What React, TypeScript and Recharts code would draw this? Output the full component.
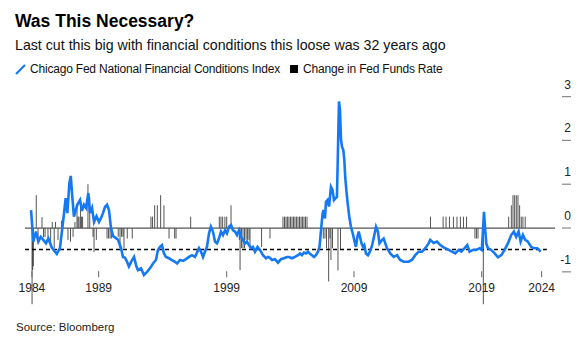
import React from "react";
import { Bar, ComposedChart, Line, ReferenceLine, XAxis, YAxis } from "recharts";

// Chicago Fed NFCI (x in chart years)
const nfciYears = [
  1983.63, 1983.81, 1984.02, 1984.2, 1984.39, 1984.59, 1984.8, 1984.99, 1985.25, 1985.51, 1985.65, 1985.9,
  1986.16, 1986.35, 1986.48, 1986.64, 1986.75, 1986.87, 1987.0, 1987.14, 1987.26, 1987.48, 1987.63, 1987.79,
  1987.95, 1988.13, 1988.26, 1988.42, 1988.58, 1988.77, 1988.97, 1989.13, 1989.28, 1989.44, 1989.6, 1989.75,
  1989.91, 1990.07, 1990.3, 1990.46, 1990.7, 1990.85, 1991.01, 1991.17, 1991.32, 1991.48, 1991.72, 1991.91,
  1992.03, 1992.27, 1992.5, 1992.74, 1992.97, 1993.21, 1993.44, 1993.6, 1993.76, 1993.92, 1994.07, 1994.23,
  1994.47, 1994.7, 1994.94, 1995.1, 1995.33, 1995.57, 1995.8, 1996.04, 1996.27, 1996.51, 1996.67, 1996.82,
  1996.98, 1997.14, 1997.29, 1997.45, 1997.61, 1997.76, 1997.92, 1998.08, 1998.24, 1998.39, 1998.55, 1998.71,
  1998.87, 1999.02, 1999.18, 1999.34, 1999.49, 1999.65, 1999.81, 1999.97, 2000.12, 2000.28, 2000.44, 2000.59,
  2000.75, 2000.91, 2001.06, 2001.22, 2001.42, 2001.61, 2001.85, 2002.09, 2002.24, 2002.4, 2002.56, 2002.79,
  2003.03, 2003.26, 2003.5, 2003.73, 2003.89, 2004.13, 2004.36, 2004.6, 2004.76, 2004.91, 2005.07, 2005.23,
  2005.39, 2005.54, 2005.7, 2005.86, 2006.01, 2006.17, 2006.29, 2006.41, 2006.52, 2006.6, 2006.72, 2006.8,
  2006.92, 2007.04, 2007.19, 2007.31, 2007.43, 2007.55, 2007.66, 2007.74, 2007.82, 2007.9, 2007.98, 2008.06,
  2008.16, 2008.24, 2008.31, 2008.42, 2008.5, 2008.63, 2008.76, 2008.9, 2009.02, 2009.15, 2009.27, 2009.37,
  2009.47, 2009.59, 2009.71, 2009.81, 2009.94, 2010.1, 2010.25, 2010.41, 2010.57, 2010.73, 2010.88, 2011.0,
  2011.12, 2011.33, 2011.59, 2011.85, 2012.12, 2012.38, 2012.63, 2012.9, 2013.29, 2013.55, 2013.81, 2014.08,
  2014.34, 2014.6, 2014.86, 2014.99, 2015.26, 2015.52, 2015.78, 2016.04, 2016.43, 2016.7, 2016.96, 2017.22,
  2017.43, 2017.69, 2017.9, 2018.08, 2018.34, 2018.6, 2018.87, 2019.04, 2019.15, 2019.21, 2019.29, 2019.39,
  2019.52, 2019.78, 2020.05, 2020.31, 2020.57, 2020.83, 2021.09, 2021.35, 2021.56, 2021.74, 2021.93, 2022.09,
  2022.27, 2022.45, 2022.66, 2022.92, 2023.14, 2023.4, 2023.66,
];
const nfciValues = [
  0.41, -0.31, -0.08, -0.31, -0.2, -0.27, -0.35, -0.24, -0.44, -0.54, -0.59, -0.46,
  0.18, 0.68, 0.34, 1.02, 1.19, 0.71, 0.26, 0.41, 0.53, 0.64, 0.39, 0.53,
  0.46, 0.8, 0.34, 0.46, 0.14, 0.27, 0.14, 0.23, 0.34, 0.48, 0.53, 0.41,
  0.0, -0.18, -0.23, -0.27, -0.46, -0.66, -0.68, -0.77, -0.88, -0.78, -0.66, -0.88,
  -0.96, -0.92, -1.07, -1.0, -0.92, -0.81, -0.73, -0.5, -0.43, -0.39, -0.58, -0.66,
  -0.69, -0.73, -0.77, -0.81, -0.73, -0.75, -0.71, -0.66, -0.62, -0.66, -0.56, -0.46,
  -0.54, -0.66, -0.54, -0.43, -0.12, 0.03, -0.08, -0.31, -0.35, -0.24, -0.08, -0.16,
  -0.05, -0.12, 0.03, 0.07, -0.05, -0.08, -0.16, -0.05, -0.2, -0.27, -0.35, -0.31,
  -0.39, -0.46, -0.43, -0.54, -0.43, -0.5, -0.62, -0.69, -0.66, -0.68, -0.73, -0.71,
  -0.79, -0.71, -0.69, -0.66, -0.66, -0.69, -0.66, -0.62, -0.58, -0.62, -0.56, -0.58,
  -0.54, -0.59, -0.62, -0.66, -0.62, -0.54, -0.43, -0.05, 0.3, 0.41, 0.22, 0.6,
  0.64, 0.49, 0.94, 0.87, 0.64, 0.68, 0.71, 1.78, 2.89, 2.69, 2.01, 1.85,
  1.78, 1.55, 1.16, 0.8, 0.57, 0.26, 0.03, -0.12, -0.27, -0.43, -0.2, -0.08,
  -0.2, -0.35, -0.43, -0.39, -0.58, -0.62, -0.54, -0.41, -0.2, 0.03, -0.08, -0.35,
  -0.3, -0.24, -0.46, -0.58, -0.66, -0.62, -0.73, -0.77, -0.77, -0.73, -0.62, -0.54,
  -0.54, -0.46, -0.35, -0.27, -0.34, -0.31, -0.39, -0.44, -0.5, -0.54, -0.58, -0.5,
  -0.54, -0.46, -0.39, -0.54, -0.5, -0.5, -0.46, -0.5, 0.03, 0.37, 0.03, -0.35,
  -0.46, -0.5, -0.58, -0.67, -0.62, -0.5, -0.35, -0.16, -0.08, -0.2, -0.08, -0.31,
  -0.16, -0.27, -0.31, -0.43, -0.46, -0.46, -0.54,
];

// Change in Fed Funds rate (percentage points)
const fedYears = [
  1983.71, 1983.76, 1983.81, 1984.04, 1984.18, 1984.49, 1984.61, 1984.73, 1984.96, 1985.17, 1985.3, 1985.45,
  1985.55, 1985.75, 1986.02, 1986.53, 1986.73, 1986.93, 1987.08, 1987.24, 1987.32, 1987.4, 1987.52, 1987.6,
  1987.68, 1988.1, 1988.24, 1988.5, 1988.58, 1988.76, 1989.6, 1989.72, 1989.84, 1989.96, 1990.48, 1990.62,
  1990.74, 1990.85, 1990.93, 1991.19, 1991.58, 1993.05, 1993.17, 1993.34, 1993.55, 1993.81, 1994.07, 1994.47,
  1994.91, 1995.02, 1996.17, 1998.42, 1998.55, 1998.68, 1998.86, 1999.0, 1999.34, 1999.99, 2000.05, 2000.16,
  2000.28, 2000.4, 2000.52, 2000.63, 2000.75, 2000.83, 2001.74, 2002.4, 2003.42, 2003.54, 2003.66, 2003.77,
  2003.89, 2004.01, 2004.13, 2004.25, 2004.36, 2004.48, 2004.6, 2004.72, 2004.84, 2004.95, 2005.07, 2005.19,
  2005.31, 2006.59, 2006.72, 2006.84, 2007.01, 2007.11, 2007.19, 2007.31, 2007.74, 2007.94, 2015.01, 2016.0,
  2016.23, 2016.5, 2016.81, 2017.09, 2017.36, 2017.6, 2017.84, 2018.5, 2018.62, 2018.74, 2019.11, 2019.16,
  2021.15, 2021.36, 2021.49, 2021.62, 2021.75, 2021.88, 2022.01, 2022.14, 2022.27, 2022.45,
];
const fedChanges = [
  -1.74, -0.96, -0.87, 0.75, -0.27, 0.25, -0.21, -0.21, -0.31, -0.35, 0.14, -0.46,
  0.14, -0.27, 0.17, -0.27, -0.31, -0.2, 0.14, 0.52, 0.26, 0.26, 0.49, 0.26,
  0.26, 1.0, 0.71, -0.2, -0.55, -0.27, -0.24, -0.24, -0.24, -0.24, -0.2, -0.46,
  -0.2, -0.2, -0.46, -0.24, -0.24, 0.26, 0.26, 0.52, 0.52, 0.75, 0.52, -0.24,
  -0.24, -0.24, 0.26, 0.26, 0.26, 0.26, 0.26, 0.26, 0.52, -0.27, -0.96, -0.46,
  -0.46, -0.46, -0.27, -0.27, -0.27, -0.46, -0.43, -0.24, 0.26, 0.26, 0.26, 0.26,
  0.26, 0.26, 0.26, 0.26, 0.26, 0.26, 0.26, 0.26, 0.26, 0.26, 0.26, 0.26,
  0.26, -0.24, -0.24, -0.46, -1.22, -0.24, -0.73, -0.46, -0.97, -0.5, 0.26, 0.26,
  0.26, 0.26, 0.26, 0.26, 0.26, 0.26, 0.26, -0.24, -0.24, -0.24, -0.5, -1.74,
  0.26, 0.52, 0.75, 0.75, 0.75, 0.75, 0.52, 0.26, 0.26, 0.26,
];

const xTickYears = [1983.7, 1988.94, 1999.0, 2009.0, 2019.03, 2023.74];
const xTickLabels = ["1984", "1989", "1999", "2009", "2019", "2024"];
const yTicks = [-1, 0, 1, 2, 3];
const xDomain = [1983.155, 2024.79];
const dashedLevel = -0.49;
const dashedEnd = 2024.15;

const BLUE = "#1479f2";
const FONT = "'Liberation Sans', Arial, sans-serif";

const rows = [
  ...nfciYears.map((t, i) => ({ t, nfci: nfciValues[i], ffr: null as number | null })),
  ...fedYears.map((t, i) => ({ t, nfci: null as number | null, ffr: fedChanges[i] })),
].sort((a, b) => a.t - b.t);

function XTick({ x, y, index }: any) {
  return (
    <g>
      <line x1={x} x2={x} y1={y - 33.5} y2={y - 27.5} stroke="#666" strokeWidth={1} />
      <text x={x} y={y - 12.5} textAnchor="middle" fontSize={12} fill="#222" fontFamily={FONT}>
        {xTickLabels[index]}
      </text>
    </g>
  );
}

function YTick({ x, y, payload }: any) {
  return (
    <g>
      <line x1={x + 7} x2={x + 16} y1={y} y2={y} stroke="#888" strokeWidth={1.2} />
      <text x={x + 16} y={y - 8} textAnchor="end" fontSize={12} fill="#222" fontFamily={FONT}>
        {payload.value}
      </text>
    </g>
  );
}

// thin stick bar, centred on its date whatever band width Recharts works out
function StickBar({ x, y, width, height }: any) {
  if (height == null || !isFinite(height) || height === 0) return null;
  const top = height < 0 ? y + height : y;
  return <rect x={x + width / 2 - 0.5} y={top} width={1} height={Math.abs(height)} fill="#1e1e1e" fillOpacity={0.75} />;
}

export default function App() {
  return (
    <div style={{ position: "absolute", left: 0, top: 0, width: 588, height: 343, background: "#fff", fontFamily: FONT }}>
      <div style={{ position: "absolute", left: 15, top: 11, fontSize: 17.5, fontWeight: 700, color: "#000" }}>
        Was This Necessary?
      </div>
      <div style={{ position: "absolute", left: 15, top: 37, fontSize: 14.2, color: "#111" }}>
        Last cut this big with financial conditions this loose was 32 years ago
      </div>
      <div style={{ position: "absolute", left: 15, top: 62, fontSize: 12, letterSpacing: -0.2, color: "#111", display: "flex", alignItems: "center" }}>
        <svg width={11} height={11} style={{ marginRight: 4 }}>
          <line x1={1} y1={10} x2={10} y2={1} stroke={BLUE} strokeWidth={2.2} />
        </svg>
        <span>Chicago Fed National Financial Conditions Index</span>
        <span style={{ display: "inline-block", width: 8, height: 8, background: "#000", marginLeft: 10, marginRight: 5 }} />
        <span>Change in Fed Funds Rate</span>
      </div>
      <div style={{ position: "absolute", left: 16, top: 321, fontSize: 11.5, color: "#222" }}>Source: Bloomberg</div>

      <div style={{ position: "absolute", left: 0, top: 0 }}>
        <ComposedChart width={588} height={343} data={rows} margin={{ top: 96.6, right: 8, bottom: 18.3, left: 25 }}>
          <XAxis
            dataKey="t"
            type="number"
            domain={xDomain}
            ticks={xTickYears}
            tick={<XTick />}
            tickLine={false}
            axisLine={false}
            tickSize={0}
            tickMargin={0}
            height={20}
            interval={0}
            allowDataOverflow
          />
          <YAxis
            orientation="right"
            domain={[-1.75, 3]}
            ticks={yTicks}
            tick={<YTick />}
            tickLine={false}
            axisLine={false}
            tickSize={0}
            tickMargin={0}
            width={25}
            allowDataOverflow
          />
          <ReferenceLine y={0} stroke="#555" strokeWidth={1.3} />
          <Bar dataKey="ffr" barSize={1} shape={<StickBar />} isAnimationActive={false} />
          <ReferenceLine
            segment={[{ x: xDomain[0], y: dashedLevel }, { x: dashedEnd, y: dashedLevel }]}
            stroke="#000"
            strokeWidth={1.5}
            strokeDasharray="4 3"
          />
          <Line
            dataKey="nfci"
            type="linear"
            stroke={BLUE}
            strokeWidth={2.6}
            dot={false}
            connectNulls
            isAnimationActive={false}
          />
        </ComposedChart>
      </div>
    </div>
  );
}
